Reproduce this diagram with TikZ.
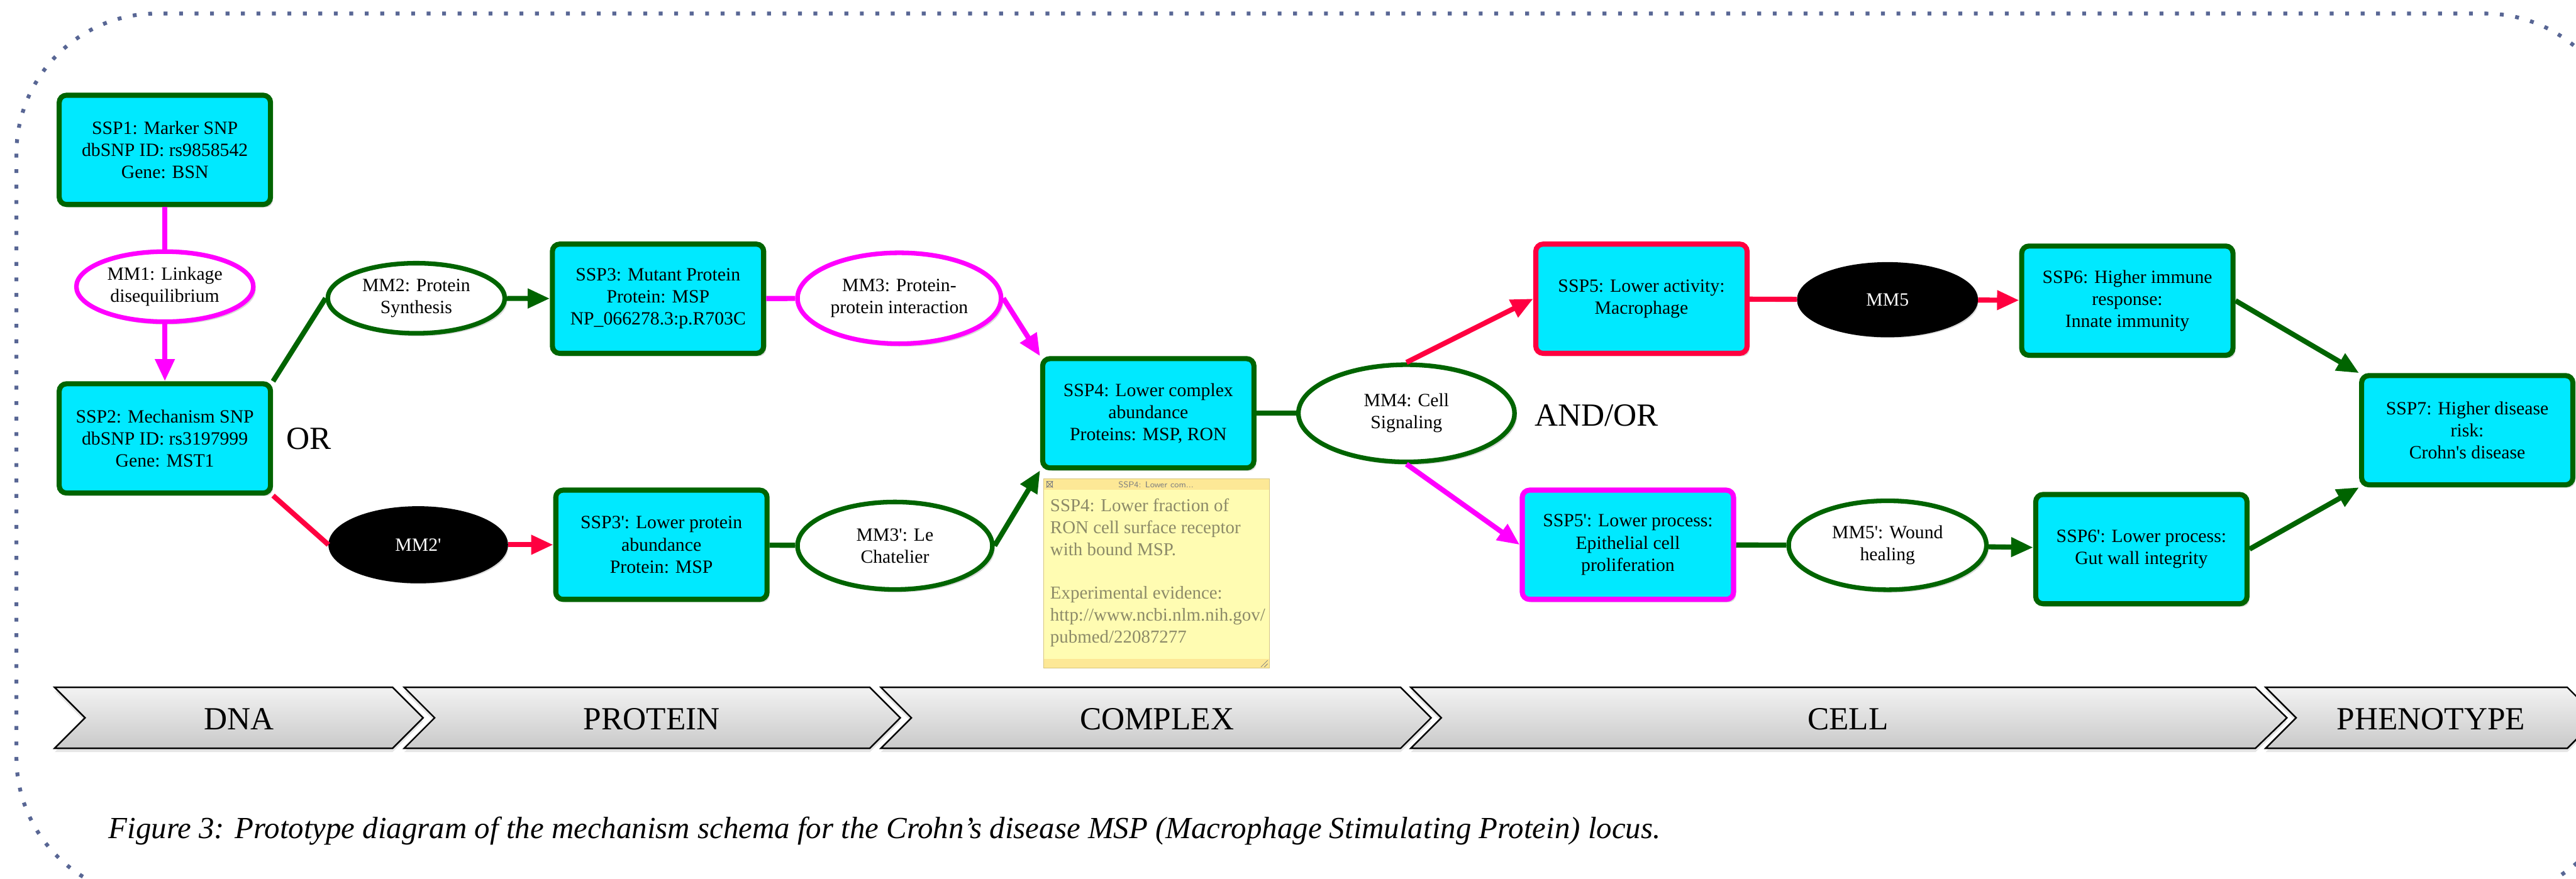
\documentclass[tikz,border=0pt]{standalone}
\usepackage{fontspec}
\setmainfont{Liberation Serif}
\usepackage{tikz}
\usetikzlibrary{arrows.meta, shapes.geometric, shadows}

\definecolor{sspcyan}{RGB}{0,233,255}
\definecolor{darkgreen}{RGB}{0,100,0}
\definecolor{linkred}{RGB}{255,0,64}
\definecolor{linkmagenta}{RGB}{255,0,255}
\definecolor{framedots}{RGB}{88,102,148}
\definecolor{notebody}{RGB}{255,252,178}
\definecolor{notebar}{RGB}{253,232,150}
\definecolor{notetext}{RGB}{140,138,104}

% straight apostrophe, as in SSP3'
\newcommand{\prm}{\textquotesingle}

\begin{document}
\begin{tikzpicture}[line width = 3pt,
                        ssp/.style = {rectangle, rounded corners = 0.15cm, draw = darkgreen, fill = sspcyan,
                                      minimum width = 4.37cm, minimum height = 2.26cm, align = center,
                                      font = \fontsize{11}{13}\selectfont,
                                      drop shadow = {opacity = 0.3, shadow xshift = 0.05cm, shadow yshift = -0.06cm}},
                        mm/.style = {ellipse, draw = darkgreen, line width = 2.7pt, fill = white, inner sep = 0pt,
                                     align = center, font = \fontsize{11}{13}\selectfont,
                                     drop shadow = {opacity = 0.3, shadow xshift = 0.05cm, shadow yshift = -0.06cm}},
                        hidden/.style = {mm, draw = black, fill = black, text = white},
                        tip/.style = {-{Triangle[length = 13pt, width = 11pt]}},
                        stage/.style = {draw = black, line width = 0.9pt, top color = gray!10, bottom color = gray!42,
                                        drop shadow = {opacity = 0.2, shadow xshift = 0cm, shadow yshift = -0.08cm}},
                        big/.style = {font = \fontsize{19}{22}\selectfont}]
      \useasboundingbox (0, -18.18) rectangle (53.28, 0);
      \clip (0, -18.18) rectangle (53.28, 0);

      % dotted frame, runs off the right and bottom
      \draw [framedots, line width = 0.08cm, dash pattern = on 0.08cm off 0.24cm, rounded corners = 2.9cm]
            (0.34, -0.28) rectangle (54.29, -18.57);

      % states
      \node [ssp] (s1) at (3.41, -3.10){SSP1: Marker SNP\\dbSNP ID: rs9858542\\Gene: BSN};
      \node [ssp] (s2) at (3.41, -9.07){SSP2: Mechanism SNP\\dbSNP ID: rs3197999\\Gene: MST1};
      \node [ssp] (s3) at (13.61, -6.18){SSP3: Mutant Protein\\Protein: MSP\\NP\_066278.3:p.R703C};
      \node [ssp] (s3p) at (13.68, -11.27){SSP3\prm: Lower protein\\abundance\\Protein: MSP};
      \node [ssp] (s4) at (23.75, -8.55){SSP4: Lower complex\\abundance\\Proteins: MSP, RON};
      \node [ssp, draw = linkred] (s5) at (33.95, -6.18){SSP5: Lower activity:\\Macrophage};
      \node [ssp, draw = linkmagenta] (s5p) at (33.67, -11.27){SSP5\prm: Lower process:\\Epithelial cell\\proliferation};
      \node [ssp] (s6) at (44.00, -6.22){SSP6: Higher immune\\response:\\Innate immunity};
      \node [ssp] (s6p) at (44.29, -11.36){SSP6\prm: Lower process:\\Gut wall integrity};
      \node [ssp] (s7) at (51.03, -8.90){SSP7: Higher disease\\risk:\\Crohn\prm s disease};

      % mechanisms
      \node [mm, draw = linkmagenta, minimum width = 3.66cm, minimum height = 1.45cm] (m1) at (3.41, -5.93){MM1: Linkage\\disequilibrium};
      \node [mm, minimum width = 3.66cm, minimum height = 1.45cm] (m2) at (8.61, -6.17){MM2: Protein\\Synthesis};
      \node [hidden, minimum width = 3.62cm, minimum height = 1.50cm] (m2p) at (8.65, -11.27){MM2\prm};
      \node [mm, draw = linkmagenta, minimum width = 4.21cm, minimum height = 1.88cm] (m3) at (18.60, -6.17){MM3: Protein-\\protein interaction};
      \node [mm, minimum width = 4.03cm, minimum height = 1.81cm] (m3p) at (18.51, -11.29){MM3\prm: Le\\Chatelier};
      \node [mm, minimum width = 4.47cm, minimum height = 2.01cm] (m4) at (29.09, -8.55){MM4: Cell\\Signaling};
      \node [hidden, minimum width = 3.65cm, minimum height = 1.46cm] (m5) at (39.04, -6.20){MM5};
      \node [mm, minimum width = 4.09cm, minimum height = 1.84cm] (m5p) at (39.04, -11.28){MM5\prm: Wound\\healing};

      \node [big] (or) at (6.39, -9.08){OR};
      \node [big] (andor) at (33.02, -8.60){AND/OR};

      % links
      \draw [linkmagenta] (s1) -- (m1);
      \draw [tip, linkmagenta] (m1) -- (s2);
      \draw [darkgreen] (s2.north east) -- (m2.west);
      \draw [tip, darkgreen] (m2) -- (s3);
      \draw [linkred] (s2.south east) -- (m2p.west);
      \draw [tip, linkred] (m2p) -- (s3p);
      \draw [linkmagenta] (s3) -- (m3);
      \draw [tip, linkmagenta] (m3.east) -- (s4.north west);
      \draw [darkgreen] (s3p) -- (m3p);
      \draw [tip, darkgreen] (m3p.east) -- (s4.south west);
      \draw [darkgreen] (s4) -- (m4);
      \draw [tip, linkred] (m4.north) -- (s5.west);
      \draw [tip, linkmagenta] (m4.south) -- (s5p.west);
      \draw [linkred] (s5) -- (m5);
      \draw [tip, linkred] (m5) -- (s6);
      \draw [darkgreen] (s5p) -- (m5p);
      \draw [tip, darkgreen] (m5p) -- (s6p);
      \draw [tip, darkgreen] (s6.east) -- (s7.north west);
      \draw [tip, darkgreen] (s6p.east) -- (s7.south west);

      % note pinned under SSP4
      \fill [notebody] (21.59, -9.90) rectangle (26.26, -13.82);
      \fill [notebar] (21.59, -9.90) rectangle (26.26, -10.13);
      \fill [notebar] (21.59, -13.63) rectangle (26.26, -13.82);
      \draw [notebar!85!black, line width = 0.3pt] (21.59, -9.90) rectangle (26.26, -13.82);
      \node [draw = gray, line width = 0.4pt, minimum size = 0.12cm, inner sep = 0pt] (close) at (21.71, -10.02){};
      \draw [gray, line width = 0.4pt] (close.north west) -- (close.south east) (close.north east) -- (close.south west);
      \node [text = gray, font = \sffamily\fontsize{5}{6}\selectfont] (notetitle) at (23.91, -10.02){SSP4: Lower com...};
      \node [anchor = north west, inner sep = 0pt, align = left, text = notetext,
             font = \fontsize{10.7}{12.85}\selectfont] (note) at (21.67, -10.27)
            {SSP4: Lower fraction of\\RON cell surface receptor\\with bound MSP.\\[12.85pt]Experimental evidence:\\http://www.ncbi.nlm.nih.gov/\\pubmed/22087277};
      \draw [gray, line width = 0.3pt] (26.08, -13.80) -- (26.22, -13.66) (26.15, -13.80) -- (26.22, -13.73);

      % stages along the bottom
      \draw [stage] (1.13, -14.22) -- (8.12, -14.22) -- (8.75, -14.85) -- (8.12, -15.48) -- (1.13, -15.48) -- (1.76, -14.85) -- cycle;
      \draw [stage] (8.36, -14.22) -- (17.99, -14.22) -- (18.62, -14.85) -- (17.99, -15.48) -- (8.36, -15.48) -- (8.99, -14.85) -- cycle;
      \draw [stage] (18.22, -14.22) -- (28.97, -14.22) -- (29.60, -14.85) -- (28.97, -15.48) -- (18.22, -15.48) -- (18.85, -14.85) -- cycle;
      \draw [stage] (29.18, -14.22) -- (46.65, -14.22) -- (47.30, -14.85) -- (46.65, -15.48) -- (29.18, -15.48) -- (29.81, -14.85) -- cycle;
      \draw [stage] (46.86, -14.22) -- (53.10, -14.22) -- (53.73, -14.85) -- (53.10, -15.48) -- (46.86, -15.48) -- (47.49, -14.85) -- cycle;
      \node [big] (dna) at (4.94, -14.88){DNA};
      \node [big] (protein) at (13.48, -14.88){PROTEIN};
      \node [big] (complex) at (23.93, -14.88){COMPLEX};
      \node [big] (cell) at (38.22, -14.88){CELL};
      \node [big] (phenotype) at (50.28, -14.88){PHENOTYPE};

      \node [anchor = base west, font = \itshape\fontsize{18.1}{22}\selectfont] (caption) at (2.08, -17.35)
            {Figure 3: Prototype diagram of the mechanism schema for the Crohn’s disease MSP (Macrophage Stimulating Protein) locus.};
      \end{tikzpicture}
\end{document}
